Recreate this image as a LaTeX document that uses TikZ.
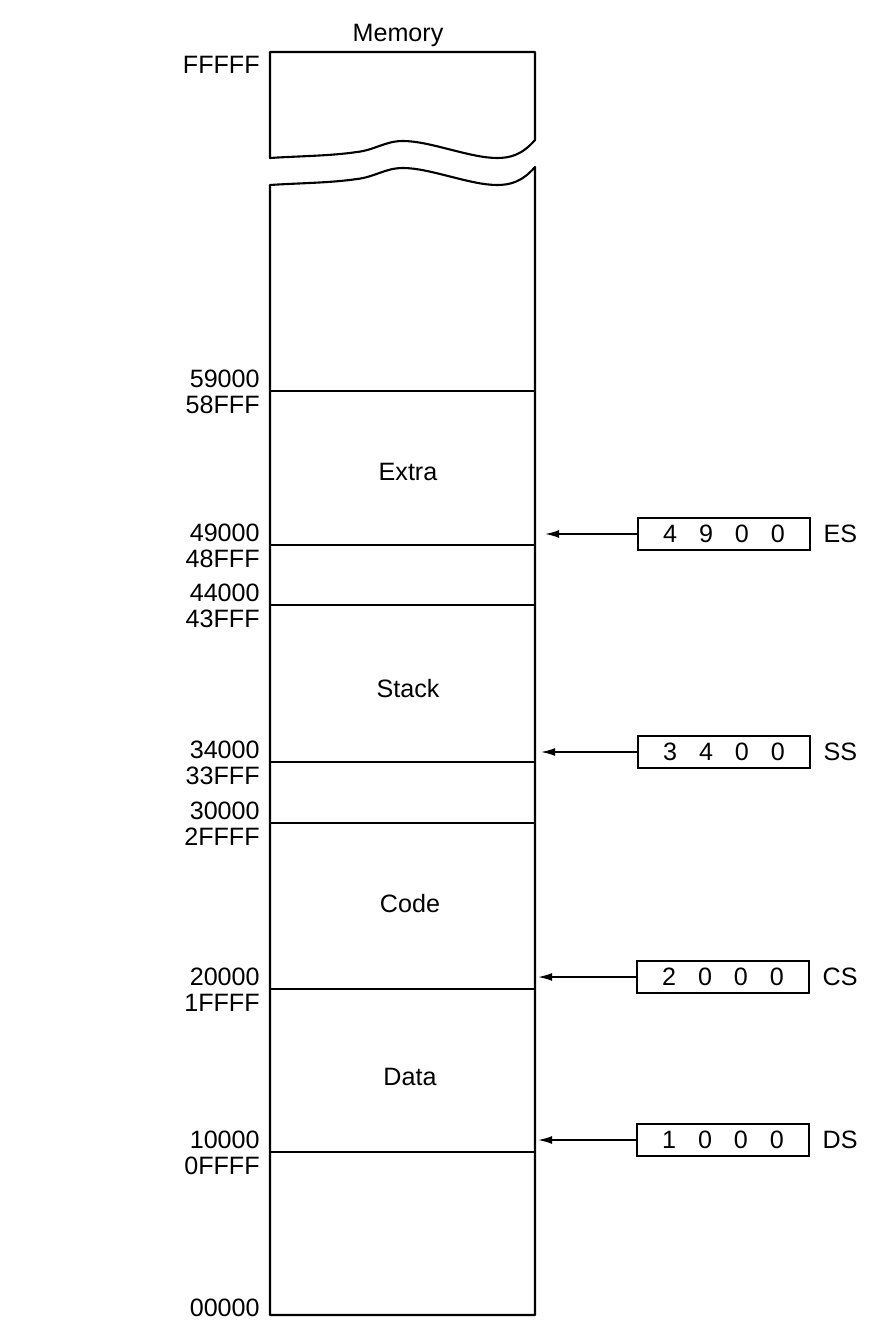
\documentclass[tikz,border=0pt]{standalone}
\usepackage{fontspec}
\setmainfont{Liberation Sans}
\usetikzlibrary{arrows.meta, positioning}
\newcommand{\regval}[4]{#1\hspace{4.4mm}#2\hspace{4.4mm}#3\hspace{4.4mm}#4}

\begin{document}
\begin{tikzpicture}[
  x=0.02cm, y=-0.02cm,
  every node/.style={font=\fontsize{14.3}{16}\selectfont, inner sep=0pt},
  mem/.style={line width=1.2pt, line join=round},
  addrHi/.style={anchor=base east},
  addrLo/.style={anchor=base east},
  region/.style={anchor=center},
  reg/.style={draw, line width=1.2pt, minimum width=3.44cm, minimum height=0.64cm, inner sep=0pt},
  regName/.style={anchor=west},
  arrow/.style={-{Latex[length=8pt, width=4.5pt]}, line width=0.9pt},
  node distance=7pt
]
\useasboundingbox (0,0) rectangle (890,1331);

% memory column, broken near the top
\draw[mem] (270,158) -- (270,52) -- (535,52) -- (535,140)
  .. controls (522,155) and (510,158) .. (497,158)
  .. controls (470,158) and (430,141) .. (403,141)
  .. controls (385,141) and (375,150) .. (357,152)
  .. controls (330,156) and (300,156) .. cycle;
\draw[mem] (270,185) -- (270,1315) -- (535,1315) -- (535,167)
  .. controls (522,182) and (510,185) .. (497,185)
  .. controls (470,185) and (430,168) .. (403,168)
  .. controls (385,168) and (375,177) .. (357,179)
  .. controls (330,183) and (300,183) .. cycle;

\node[anchor=base] (memTitle) at (398,42) {Memory};
\node[addrHi] (aTop) at (260,74) {FFFFF};
\node[addrHi] (aBottom) at (260,1316) {00000};

\foreach \yy/\hi/\lo in {391/59000/58FFF, 545/49000/48FFF, 605/44000/43FFF, 762/34000/33FFF,
                         823/30000/2FFFF, 989/20000/1FFFF, 1152/10000/0FFFF} {
  \draw[mem] (270,\yy) -- (535,\yy);
  \node[addrHi] (a\hi) at (260,\yy-4) {\hi};
  \node[addrLo] (a\lo) at (260,\yy+22) {\lo};
}

\node[region] (extra) at (408,472) {Extra};
\node[region] (stack) at (408,689) {Stack};
\node[region] (code) at (410,904) {Code};
\node[region] (data) at (410,1077) {Data};

% segment registers
\node[reg] (esReg) at (724,534) {\regval4900};
\node[reg] (ssReg) at (724,752) {\regval3400};
\node[reg] (csReg) at (723,977) {\regval2000};
\node[reg] (dsReg) at (723,1140) {\regval1000};
\node[regName, right=of esReg] (esName) {ES};
\node[regName, right=of ssReg] (ssName) {SS};
\node[regName, right=of csReg] (csName) {CS};
\node[regName, right=of dsReg] (dsName) {DS};

\coordinate (esTip) at (545,534);
\coordinate (ssTip) at (541,752);
\coordinate (csTip) at (538,977);
\coordinate (dsTip) at (538,1140);
\draw[arrow] (esReg.west) -- (esTip);
\draw[arrow] (ssReg.west) -- (ssTip);
\draw[arrow] (csReg.west) -- (csTip);
\draw[arrow] (dsReg.west) -- (dsTip);
\end{tikzpicture}
\end{document}
